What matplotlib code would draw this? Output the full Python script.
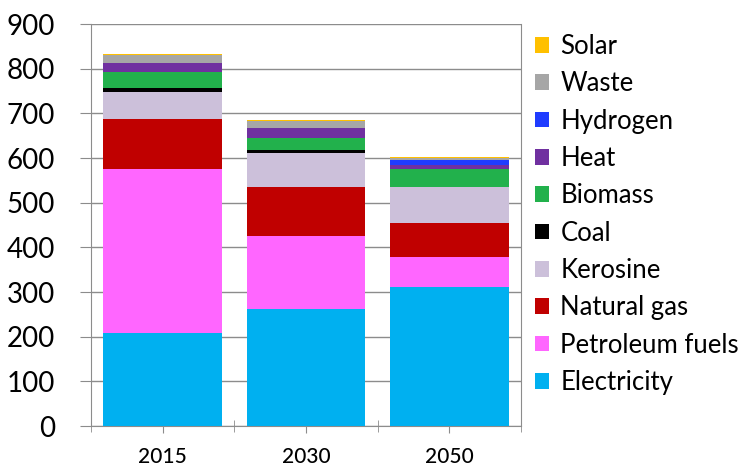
import matplotlib.pyplot as plt
import numpy as np

years = ["2015", "2030", "2050"]

# bottom to top
categories = ["Electricity", "Petroleum fuels", "Natural gas", "Kerosine", "Coal",
              "Biomass", "Heat", "Hydrogen", "Waste", "Solar"]
electricity = [208, 262, 312]
petroleum = [367, 163, 66]
natural_gas = [112, 110, 77]
kerosine = [61, 76, 80]
coal = [8, 7, 0]
biomass = [36, 27, 40]
heat = [21, 22, 9]
hydrogen = [0, 0, 11]
waste = [18, 16, 5]
solar = [2, 2, 2]

series = [electricity, petroleum, natural_gas, kerosine, coal,
          biomass, heat, hydrogen, waste, solar]
colors = ["#00B0F0", "#FF66FF", "#C00000", "#CCC0DA", "#000000",
          "#22B14C", "#7030A0", "#1F3CFF", "#A6A6A6", "#FFC000"]

plt.rcParams['font.family'] = ['Lato', 'DejaVu Sans']

fig = plt.figure(figsize=(7.47, 4.69), dpi=100)
ax = fig.add_axes([91 / 747, 1 - 426 / 469, (521 - 91) / 747, (426 - 24) / 469])

x = np.arange(len(years))
bottom = np.zeros(len(years))
handles = []
for name, vals, col in zip(categories, series, colors):
    b = ax.bar(x, vals, 0.83, bottom=bottom, color=col, label=name, zorder=3)
    handles.append(b)
    bottom += np.array(vals)

ax.set_xlim(-0.5, 2.5)
ax.set_ylim(0, 900)
ax.set_yticks(range(0, 901, 100))
ax.grid(axis='y', color='#8c8c8c', linewidth=1, zorder=0)

for s in ['left', 'bottom', 'right']:
    ax.spines[s].set_color('#8c8c8c')
ax.spines['top'].set_visible(False)

ax.set_xticks(x)
ax.set_xticklabels(years, fontsize=15, fontweight='medium')
ax.set_xticks([-0.5, 0.5, 1.5, 2.5], minor=True)
ax.tick_params(axis='x', which='major', length=5, color='#8c8c8c', pad=10)
ax.tick_params(axis='x', which='minor', length=9, direction='inout', color='#8c8c8c')
ax.tick_params(axis='y', length=8, color='#8c8c8c', labelsize=20, pad=18)

leg = ax.legend(handles[::-1], categories[::-1], loc='upper left',
                bbox_to_anchor=(0.99, 1.02), frameon=False, fontsize=18.5,
                handlelength=0.55, handleheight=0.55, handletextpad=0.45,
                labelspacing=0.48, borderaxespad=0.3)

fig.savefig("out.png", dpi=100)
